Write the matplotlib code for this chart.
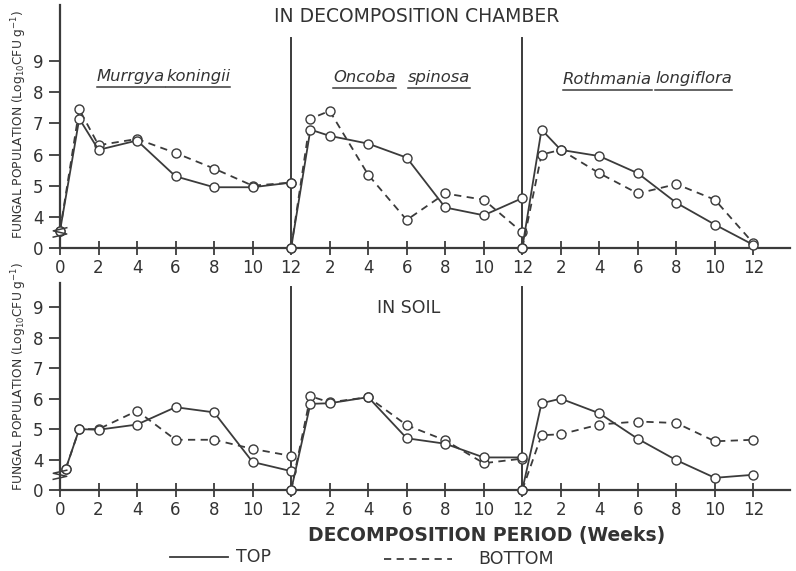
import matplotlib
matplotlib.use("Agg")
import matplotlib.pyplot as plt
from matplotlib.lines import Line2D

# ---------------- data (y in display units: tick "0" drawn at 3, broken axis) -------------
weeks = [0, 1, 2, 4, 6, 8, 10, 12]
weeks_soil_murraya = [0.3, 1, 2, 4, 6, 8, 10, 12]
species = ["Murrgya koningii", "Oncoba spinosa", "Rothmania longiflora"]

chamber_top_murraya = [3.55, 7.15, 6.15, 6.45, 5.3, 4.95, 4.95, 5.1]
chamber_bottom_murraya = [3.55, 7.45, 6.3, 6.5, 6.05, 5.55, 5.0, 5.1]
chamber_top_oncoba = [3.0, 6.8, 6.6, 6.35, 5.9, 4.3, 4.05, 4.6]
chamber_bottom_oncoba = [3.0, 7.15, 7.4, 5.35, 3.9, 4.75, 4.55, 3.5]
chamber_top_rothmannia = [3.0, 6.8, 6.15, 5.95, 5.4, 4.45, 3.75, 3.1]
chamber_bottom_rothmannia = [3.0, 6.0, 6.15, 5.4, 4.75, 5.05, 4.55, 3.15]

soil_top_murraya = [3.7, 5.0, 4.98, 5.15, 5.72, 5.55, 3.92, 3.62]
soil_bottom_murraya = [3.7, 5.0, 5.0, 5.6, 4.65, 4.65, 4.35, 4.12]
soil_top_oncoba = [3.0, 5.83, 5.85, 6.05, 4.7, 4.52, 4.07, 4.07]
soil_bottom_oncoba = [3.0, 6.08, 5.88, 6.05, 5.13, 4.63, 3.88, 4.03]
soil_top_rothmannia = [3.0, 5.85, 6.0, 5.52, 4.68, 3.98, 3.4, 3.5]
soil_bottom_rothmannia = [3.0, 4.8, 4.83, 5.15, 5.25, 5.2, 4.6, 4.65]

ytick_pos = [3, 4, 5, 6, 7, 8, 9]
ytick_labels = ["0", "4", "5", "6", "7", "8", "9"]
xtick_labels = ["0", "2", "4", "6", "8", "10", "12",
                "2", "4", "6", "8", "10", "12",
                "2", "4", "6", "8", "10", "12"]

# ---------------- figure -------------
W, H = 796, 571
fig = plt.figure(figsize=(W / 100, H / 100), dpi=100)
INK = "#3b3b3b"
TXT = "#333333"

def fx(px):
    return px / W

def fy(py):
    return 1 - py / H

ax_top = fig.add_axes([fx(60), fy(248), fx(790) - fx(60), fy(5) - fy(248)])
ax_bot = fig.add_axes([fx(60), fy(490), fx(790) - fx(60), fy(283) - fy(490)])

panels = [
    (ax_top, 10.8, 9.74,
     [(weeks, chamber_top_murraya, weeks, chamber_bottom_murraya),
      (weeks, chamber_top_oncoba, weeks, chamber_bottom_oncoba),
      (weeks, chamber_top_rothmannia, weeks, chamber_bottom_rothmannia)]),
    (ax_bot, 9.8, 9.66,
     [(weeks_soil_murraya, soil_top_murraya, weeks_soil_murraya, soil_bottom_murraya),
      (weeks, soil_top_oncoba, weeks, soil_bottom_oncoba),
      (weeks, soil_top_rothmannia, weeks, soil_bottom_rothmannia)]),
]

for ax, ytop, septop, segs in panels:
    ax.set_xlim(0, 37.9)
    ax.set_ylim(3, ytop)
    for s in ("top", "right"):
        ax.spines[s].set_visible(False)
    for s in ("left", "bottom"):
        ax.spines[s].set_color(INK)
        ax.spines[s].set_linewidth(1.6)
    for i, (wt, vt, wb, vb) in enumerate(segs):
        off = 12 * i
        ax.plot([w + off for w in wb], vb, linestyle=(0, (4, 3)), color=INK, lw=1.3,
                marker="o", ms=6.5, mfc="white", mec=INK, mew=1.0, clip_on=False, zorder=3)
        ax.plot([w + off for w in wt], vt, linestyle="-", color=INK, lw=1.3,
                marker="o", ms=6.5, mfc="white", mec=INK, mew=1.0, clip_on=False, zorder=4)
    for xs in (12, 24):
        ax.plot([xs, xs], [3, septop], color=INK, lw=1.4, zorder=2)
    ax.set_yticks(ytick_pos)
    ax.set_yticklabels(ytick_labels)
    ax.set_xticks(list(range(0, 37, 2)))
    ax.set_xticklabels(xtick_labels)
    ax.tick_params(axis="y", direction="out", length=8, width=1.3, colors=INK,
                   labelcolor=TXT, labelsize=12, pad=4)
    ax.tick_params(axis="x", direction="inout", length=10, width=1.3, colors=INK,
                   labelcolor=TXT, labelsize=12, pad=3)
    # axis break zigzag
    ax.plot([-0.35, 0.35, -0.35, 0.35], [3.35, 3.45, 3.55, 3.65], color=INK, lw=1.1,
            clip_on=False, zorder=5)

# ---------------- texts -------------
fig.text(fx(417), fy(16), "IN DECOMPOSITION CHAMBER", ha="center", va="center",
         fontsize=13.5, color=TXT)
fig.text(fx(409), fy(308), "IN SOIL", ha="center", va="center", fontsize=12.5, color=TXT)
fig.text(fx(487), fy(535), "DECOMPOSITION PERIOD (Weeks)", ha="center", va="center",
         fontsize=13.5, fontweight="bold", color=TXT)

ylab = "FUNGAL POPULATION (Log$_{10}$CFU g$^{-1}$)"
fig.text(fx(19), fy(124), ylab, rotation=90, ha="center", va="center", fontsize=8.8, color=TXT)
fig.text(fx(19), fy(376), ylab, rotation=90, ha="center", va="center", fontsize=8.8, color=TXT)

# species names with underlined words
word_specs = [("Murrgya", 97), ("koningii", 166),
              ("Oncoba", 333), ("spinosa", 408),
              ("Rothmania", 563), ("longiflora", 655)]
word_y = [76, 76, 77, 77, 79, 79]
word_texts = []
for (wd, xl), yy in zip(word_specs, word_y):
    t = fig.text(fx(xl), fy(yy), wd, ha="left", va="center", fontsize=11.8,
                 style="italic", color=TXT)
    word_texts.append(t)
fig.canvas.draw()
r = fig.canvas.get_renderer()
for t in word_texts:
    bb = t.get_window_extent(renderer=r)
    yline = bb.y0 - 3
    fig.add_artist(Line2D([bb.x0 / W, bb.x1 / W], [yline / H, yline / H],
                          color=INK, lw=1.1, transform=fig.transFigure))

# legend
fig.add_artist(Line2D([fx(170), fx(228)], [fy(557), fy(557)], color=INK, lw=1.3,
                      transform=fig.transFigure))
fig.text(fx(236), fy(557), "TOP", ha="left", va="center", fontsize=12.5, color=TXT)
fig.add_artist(Line2D([fx(384), fx(452)], [fy(559), fy(559)], color=INK, lw=1.3,
                      linestyle=(0, (4, 3)), transform=fig.transFigure))
fig.text(fx(478), fy(559), "BOTTOM", ha="left", va="center", fontsize=12.5, color=TXT)

fig.savefig("out.png", dpi=100, facecolor="white")
